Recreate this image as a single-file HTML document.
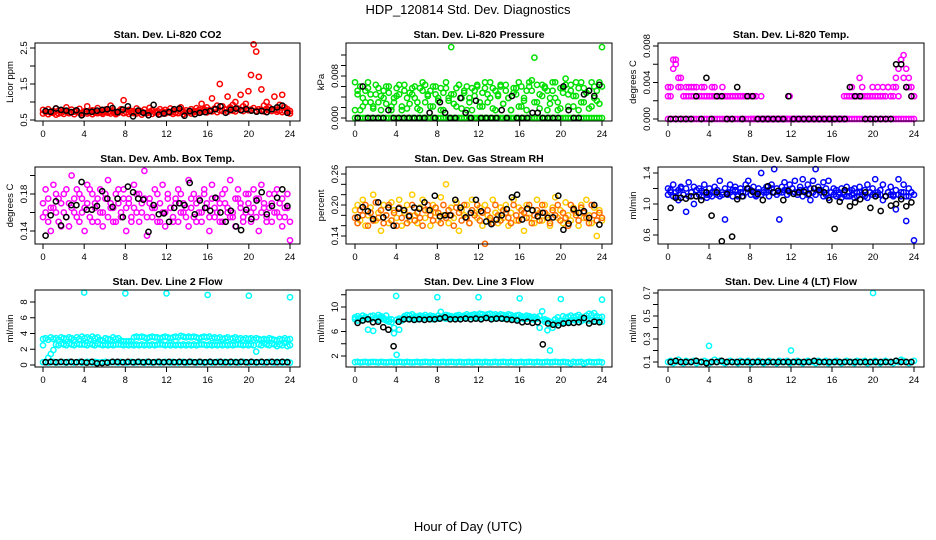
<!DOCTYPE html>
<html><head><meta charset="utf-8"><style>
body{margin:0;background:#fff}
svg{display:block;font-family:"Liberation Sans",sans-serif}
</style></head><body>
<svg id="chart" width="936" height="540" viewBox="0 0 936 540">
<text x="468" y="14" text-anchor="middle" font-size="13">HDP_120814  Std. Dev. Diagnostics</text>
<text x="468" y="531" text-anchor="middle" font-size="13">Hour of Day (UTC)</text>
</svg>
<script>
// ---- data (values; x is hour index spread over 0-24) ----
const hourTicks = [0,4,8,12,16,20,24];
const co2A = ".78 .72 .8 .7 .75 .82 .68 .77 .74 .85 .7 .79 .73 .76 .81 .69 .74 .88 .72 .77 .7 .83 .75 .71 .79 .73 .9 .76 .7 .74 .8 1.05 .72 .78 .75 .69 .82 .76 .73 .79 .7 .84 .77 .72 .75 .8 .71 .78 .74 .82 .76 .7 .79 .85 .73 .77 .72 .8 .75 .83 .78 .95 .8 .85 .76 1.1 .82 .9 1.5 .88 .8 1.15 .85 .92 1.0 .82 1.2 .88 .95 1.3 1.75 2.6 2.4 1.7 1.35 .9 1.0 .85 .8 1.15 .78 .92 1.2 .85 .8 .75";
const co2B = ".68 .74 .66 .72 .7 .65 .76 .7 .67 .73 .69 .71 .66 .75 .7 .64 .72 .68 .7 .66 .73 .69 .71 .67 .74 .7 .68 .72 .66 .7 .73 .69 .71 .67 .7 .74 .68 .72 .65 .7 .69 .73 .67 .71 .7 .66 .74 .68 .72 .7 .67 .71 .69 .73 .66 .7 .72 .68 .71 .74 .7 .73 .76 .71 .78 .74 .8 .72 .77 .75 .79 .73 .81 .76 .74 .8 .78 .75 .82 .77 .79 .83 .76 .8 .78 .74 .81 .77 .75 .79 .73 .76 .72 .75 .7 .68";
const co2K = ".75 .73 .82 .78 .76 .72 .77 .63 .74 .73 .76 .78 .8 .83 .72 .79 .88 .6 .76 .7 .63 .92 .65 .68 .72 .8 .82 .62 .75 .66 .7 .72 .75 .8 .88 .7 .78 .82 .77 .8 .76 .73 .75 .72 .8 .85 .9 .7";
const presA = "0 0 0 0 0 0 0 0 0 0 0 0 0 0 0 0 0 0 0 0 0 0 0 0 0 0 0 0 0 0 0 0 0 0 0 0 0 0 0 0 0 0 0 0 0 0 0 0 0 0 0 0 0 0 0 0 0 0 0 0 0 0 0 0 0 0 0 0 0 0 0 0 0 0 0 0 0 0 0 0 0 0 0 0 0 0 0 0 0 0 0 0 0 0 0 0";
const presB = ".0068 .0045 .0015 .0038 .0052 .0068 .003 .0022 .0045 .0057 .0015 .0038 .006 .0048 .0022 .003 .0042 .0063 .0015 .0052 .0038 .0027 .0045 .006 .0018 .0057 .0068 .003 .0045 .0052 .0022 .006 .0038 .0015 .0048 .0057 .0033 .0135 .0045 .0022 .0063 .0038 .0052 .0015 .003 .0057 .0042 .006 .0022 .0048 .0068 .003 .0038 .0057 .0015 .0045 .0063 .0027 .0052 .0038 .0015 .0057 .0045 .0068 .0022 .0033 .0052 .006 .0072 .0115 .003 .0045 .0063 .0057 .0015 .0038 .0052 .0068 .003 .0018 .0057 .0075 .0045 .0063 .0022 .0042 .0057 .0068 .003 .0048 .0052 .0022 .006 .0033 .0068 .0135";
const presC = ".0015 .0052 .006 .0022 .003 .0057 .0045 .0018 .0063 .003 .0042 .0052 .0027 .006 .0015 .0038 .0057 .0045 .0022 .0063 .0018 .0048 .0057 .0038 .003 .0015 .0052 .0063 .0042 .0022 .006 .0045 .0033 .0057 .0015 .0068 .0038 .0045 .0027 .0057 .0063 .0018 .0048 .006 .0038 .0015 .0052 .0063 .003 .0022 .0057 .0045 .0068 .0018 .0052 .0042 .006 .0027 .0063 .0038 .0015 .0048 .0057 .0022 .006 .0038 .0015 .0068 .0052 .003 .0063 .0018 .0042 .006 .0052 .0027 .0068 .0038 .0015 .0057 .0048 .0063 .0022 .0052 .0042 .0068 .0015 .003 .0057 .0048 .0018 .0068 .0038 .0052 .0027 .006";
const presK = "0 .006 0 0 0 0 .0015 0 0 0 0 0 0 0 .001 0 .003 .001 0 0 .0038 .001 0 .0033 0 0 0 0 .0015 0 .0042 0 0 0 .001 .001 0 0 0 0 .006 .0015 0 0 .0045 .0052 .0042 .0063";
const tempA = presA;
const tempB = ".0035 .0025 .0065 .006 .0045 .0035 .0025 .0035 .0025 .0035 .0025 .0035 .0025 .0025 .0035 .0025 .0025 .0035 .0025 .0025 .0025 .0035 .0025 .0025 .0025 .0025 .0025 .0025 .0025 .0025 .0025 .0025 .0025 .0025 .0025 0 .0025 0 0 0 0 0 0 0 0 0 0 .0025 0 0 0 0 0 0 0 0 0 0 0 0 0 0 0 0 0 0 0 0 0 0 .0025 .0025 .0025 .0025 .0045 .0035 .0025 .0025 .0025 .0025 .0025 .0025 .0025 .0035 .0025 .0035 .0025 .0025 .0035 .0025 .0065 .007 .0055 .0045 .0035 .0025";
const tempC = ".0025 .0035 .0055 .0065 .0035 .0045 .0025 .0025 .0035 .0025 .0035 .0025 .0025 .0035 .0025 .0025 .0025 .0025 .0035 .0025 .0025 .0025 .0025 .0025 .0025 .0025 .0025 .0025 .0025 .0025 .0025 .0025 0 0 .0025 0 0 0 0 0 0 0 0 0 0 0 0 0 0 0 0 0 0 0 0 0 0 0 0 0 0 0 0 0 0 0 0 0 .0025 .0025 .0025 .0035 .0025 .0025 .0025 .0025 .0025 .0025 .0025 .0035 .0025 .0035 .0025 .0025 .0025 .0035 .0025 .0035 .0045 .0055 .0065 .0045 .0035 .0035 .0025 .0025";
const tempK = "0 0 0 0 0 .0025 0 .0045 0 .0025 .0025 0 0 .0035 0 .0025 .0025 0 0 0 0 0 0 .0025 0 0 0 0 0 0 0 0 0 0 0 .0035 .0025 .0025 0 0 0 0 0 0 .006 .006 .0035 .0025";
const boxA = ".17 .185 .15 .165 .19 .16 .175 .145 .18 .155 .17 .2 .16 .185 .15 .175 .165 .19 .155 .18 .17 .15 .185 .16 .175 .195 .165 .15 .18 .17 .155 .185 .165 .175 .15 .19 .16 .18 .17 .205 .155 .175 .165 .185 .15 .17 .19 .16 .18 .165 .15 .175 .185 .16 .17 .155 .195 .165 .18 .15 .175 .16 .185 .17 .155 .19 .165 .175 .15 .18 .17 .16 .195 .155 .175 .185 .165 .15 .18 .17 .16 .185 .155 .175 .19 .165 .15 .18 .17 .16 .185 .155 .175 .165 .18 .15";
const boxB = ".155 .16 .175 .14 .165 .18 .15 .17 .16 .185 .145 .165 .175 .155 .18 .16 .14 .17 .185 .15 .165 .175 .16 .145 .18 .155 .17 .165 .15 .185 .16 .175 .14 .17 .155 .165 .18 .15 .16 .175 .135 .17 .155 .165 .18 .15 .16 .145 .175 .165 .155 .17 .15 .18 .16 .165 .145 .175 .155 .17 .16 .15 .18 .165 .14 .175 .155 .16 .17 .15 .185 .165 .155 .16 .145 .175 .17 .155 .16 .18 .15 .165 .175 .14 .16 .17 .155 .165 .15 .18 .16 .17 .145 .155 .165 .13";
const boxK = ".135 .157 .172 .146 .155 .168 .168 .193 .163 .163 .167 .183 .175 .166 .175 .155 .188 .182 .175 .174 .139 .168 .158 .159 .15 .165 .17 .168 .192 .158 .173 .165 .162 .176 .16 .15 .162 .145 .141 .163 .153 .173 .182 .158 .167 .176 .185 .167";
const rhA = ".19 .2 .17 .21 .16 .18 .195 .22 .17 .185 .15 .2 .18 .165 .205 .19 .175 .21 .16 .185 .2 .17 .22 .18 .165 .195 .21 .175 .19 .16 .2 .185 .17 .215 .18 .24 .165 .195 .175 .205 .15 .19 .18 .2 .165 .21 .185 .175 .195 .16 .2 .18 .17 .21 .185 .165 .195 .175 .2 .16 .185 .21 .17 .195 .18 .15 .2 .175 .19 .165 .21 .185 .17 .2 .18 .16 .195 .215 .175 .19 .165 .205 .18 .17 .195 .185 .16 .2 .175 .21 .18 .165 .195 .14 .19 .17";
const rhB = ".175 .165 .19 .18 .2 .16 .185 .17 .205 .175 .19 .165 .18 .2 .17 .185 .16 .195 .175 .19 .165 .18 .2 .17 .185 .175 .16 .19 .2 .18 .17 .195 .185 .165 .2 .175 .19 .18 .16 .195 .185 .17 .2 .175 .165 .19 .18 .2 .17 .185 .125 .19 .175 .165 .2 .18 .17 .19 .185 .175 .165 .2 .18 .17 .19 .185 .175 .2 .165 .18 .19 .17 .2 .185 .175 .165 .19 .18 .2 .17 .185 .175 .16 .2 .19 .18 .17 .195 .185 .175 .165 .2 .18 .17 .185 .175";
const rhK = ".176 .196 .188 .173 .205 .176 .195 .16 .193 .19 .178 .195 .193 .205 .19 .218 .178 .18 .18 .21 .195 .176 .185 .21 .188 .168 .163 .172 .18 .192 .215 .22 .172 .193 .19 .178 .185 .175 .176 .218 .152 .164 .192 .185 .188 .175 .2 .162";
const flowA = "1.2 1.15 1.25 1.1 1.18 1.22 1.12 1.2 1.28 1.15 1.22 1.1 1.2 1.17 1.25 1.12 1.2 1.15 1.22 1.18 1.3 1.12 1.2 1.15 1.25 1.18 1.22 1.1 1.2 1.15 1.25 1.3 1.18 1.22 1.12 1.2 1.4 1.15 1.22 1.18 1.25 1.45 1.2 1.15 1.22 1.28 1.18 1.25 1.2 1.3 1.15 1.22 1.32 1.18 1.25 1.2 1.3 1.45 1.22 1.18 1.28 1.2 1.3 1.15 1.2 1.18 1.12 1.2 1.15 1.22 1.1 1.18 1.2 1.15 1.22 1.12 1.18 1.25 1.15 1.2 1.32 1.12 1.18 1.25 1.1 1.15 1.22 1.12 1.18 1.32 1.15 1.25 1.1 1.2 1.15 1.12";
const flowB = "1.12 1.18 1.1 1.15 1.05 1.2 1.12 0.9 1.1 1.15 1.0 1.18 1.12 1.1 1.15 1.08 1.12 1.1 1.15 1.12 1.1 1.15 0.8 1.12 1.15 1.1 1.18 1.12 1.15 1.1 1.15 1.2 1.12 1.15 1.1 1.15 1.12 1.18 1.15 1.1 1.2 1.15 1.12 0.8 1.15 1.18 1.12 1.15 1.2 1.15 1.12 1.18 1.1 1.15 1.12 1.05 1.15 1.12 1.18 1.15 1.1 1.12 1.08 1.15 1.12 1.1 1.15 1.08 1.12 1.1 1.15 1.12 1.08 1.1 1.15 1.12 1.1 1.08 1.15 1.12 1.1 1.15 1.12 1.05 1.1 1.15 1.12 1.1 0.93 1.12 1.1 1.15 0.78 1.1 1.15 0.53";
const flowK = "0.95 1.08 1.08 1.07 1.1 1.1 1.05 1.15 0.85 1.15 0.52 1.13 0.58 1.06 1.1 1.2 1.16 1.13 1.05 1.23 1.15 1.17 1.05 1.17 1.13 1.15 1.16 1.13 1.2 1.18 1.15 1.05 0.68 1.03 1.18 0.97 1.02 1.06 1.15 0.95 1.1 0.91 1.1 0.98 1.0 1.06 0.97 1.02";
const l2A = "3.3 3.4 3.2 3.5 3.3 3.4 3.2 3.5 3.4 3.3 3.5 3.4 3.2 3.5 3.3 3.6 3.4 3.5 3.3 3.6 3.4 3.5 3.2 3.1 3.4 3.3 3.2 3.5 3.3 3.4 3.1 3.0 3.0 3.0 3.0 3.5 3.6 3.5 3.6 3.5 3.4 3.5 3.6 3.5 3.5 3.4 3.5 3.6 3.5 3.4 3.5 3.6 3.5 3.7 3.6 3.5 3.6 3.5 3.6 3.5 3.4 3.5 3.6 3.5 3.6 3.4 3.5 3.4 3.5 3.3 3.4 3.5 3.3 3.4 3.5 3.3 3.4 3.2 3.4 3.3 3.4 3.2 3.4 3.3 3.2 3.3 3.2 3.4 3.3 3.2 3.1 3.3 3.2 3.4 3.2 3.3";
const l2B = "2.5 0.4 0.9 1.4 1.9 2.6 2.5 2.7 2.6 2.5 2.7 2.6 2.5 2.7 2.6 2.6 2.6 2.5 2.7 2.6 2.5 2.7 2.6 2.5 2.6 2.5 2.6 2.5 2.6 2.6 2.6 2.5 2.6 2.5 2.6 2.5 2.6 2.5 2.6 2.5 2.6 2.5 2.6 2.5 2.6 2.6 2.6 2.5 2.6 2.5 2.6 2.5 2.6 2.5 2.6 2.5 2.6 2.5 2.6 2.5 2.6 2.6 2.6 2.5 2.6 2.5 2.6 2.5 2.6 2.5 2.6 2.5 2.6 2.5 2.6 2.6 2.6 2.5 2.6 2.5 2.6 2.5 1.7 2.6 2.5 2.8 2.6 2.5 2.7 2.6 2.4 2.6 2.5 2.8 2.4 2.5";
const l2C = ".35 .4 .3 .35 .4 .3 .35 .4 .35 .3 .4 .35 .3 .35 .4 .3 .35 .4 .35 .3 .4 .35 .3 .35 .4 .3 .35 .4 .35 .3 .4 .35 .3 .35 .4 .3 .35 .4 .35 .3 .4 .35 .3 .35 .4 .3 .35 .4 .35 .3 .4 .35 .3 .35 .4 .3 .35 .4 .35 .3 .4 .35 .3 .35 .4 .3 .35 .4 .35 .3 .4 .35 .3 .35 .4 .3 .35 .4 .35 .3 .4 .35 .3 .35 .4 .3 .35 .4 .35 .3 .4 .35 .3 .35 .4 .3";
const l2K = ".35 .4 .35 .4 .35 .4 .35 .4 .3 .4 .2 .25 .3 .4 .4 .35 .4 .35 .4 .35 .4 .35 .4 .35 .4 .35 .4 .35 .4 .35 .4 .35 .4 .35 .4 .35 .4 .35 .4 .35 .4 .35 .4 .35 .4 .35 .4 .35";
const l2SpikeX = [4,8,12,16,20,24];
const l2SpikeY = [9.2,9.1,9.1,8.9,8.8,8.6];
const l3A = "8.3 8.5 8.2 8.6 8.4 8.0 8.5 8.6 8.3 8.7 8.5 8.2 8.6 8.0 7.5 5.7 2.2 6.3 7.8 8.5 8.7 8.6 8.8 8.5 8.4 8.6 8.5 8.7 8.4 8.6 8.5 8.3 8.6 9.2 8.5 8.7 8.6 8.5 8.4 8.6 8.7 8.5 8.6 8.8 8.6 8.7 8.8 8.7 8.9 8.8 8.7 8.8 8.9 8.7 8.8 8.6 8.8 8.7 8.6 8.8 8.7 8.5 8.6 8.7 8.5 8.4 8.6 8.5 8.3 8.4 8.2 8.5 9.3 7.6 6.2 2.9 6.6 8.0 8.3 7.8 8.5 8.2 8.4 8.6 8.3 8.5 8.7 8.4 8.2 8.6 8.9 8.7 9.0 8.5 8.3 8.4";
const l3B = "8.0 7.8 8.1 7.9 8.2 6.3 8.0 6.1 8.1 7.9 8.2 8.0 7.8 7.6 8.0 6.6 7.9 8.1 8.0 8.2 8.1 8.0 8.2 8.1 8.0 8.2 8.1 8.3 8.1 8.2 8.0 8.2 8.1 8.3 8.2 8.1 8.3 8.2 8.1 8.3 8.2 8.4 8.3 8.2 8.4 8.3 8.2 8.4 8.3 8.2 8.4 8.3 8.2 8.3 8.1 8.3 8.2 8.1 8.3 8.2 8.1 8.2 8.0 8.1 8.2 8.0 8.1 8.2 8.0 7.9 8.1 6.6 7.9 8.0 7.8 7.6 7.4 7.2 7.6 7.3 7.5 7.7 7.6 7.8 7.9 7.8 8.0 7.7 7.9 8.0 7.8 7.9 7.7 7.9 7.8 7.6";
const l3C = "1.0 1.05 .95 1.0 1.05 .95 1.0 1.05 1.0 .95 1.05 1.0 .95 1.0 1.05 .95 1.0 1.05 1.0 .95 1.05 1.0 .95 1.0 1.05 .95 1.0 1.05 1.0 .95 1.05 1.0 .95 1.0 1.05 .95 1.0 1.05 1.0 .95 1.05 1.0 .95 1.0 1.05 .95 1.0 1.05 1.0 .95 1.05 1.0 .95 1.0 1.05 .95 1.0 1.05 1.0 .95 1.05 1.0 .95 1.0 1.05 .95 1.0 1.05 1.0 .95 1.05 1.0 .95 1.0 1.05 .95 1.0 1.05 1.0 .95 1.05 1.0 .95 .8 1.05 .95 1.0 1.05 .8 .95 1.05 1.0 .95 1.0 1.05 .95";
const l3K = "7.4 7.8 8.0 7.5 7.6 6.7 6.3 3.6 7.6 8.0 8.0 7.9 8.0 7.9 8.0 8.0 8.1 8.3 8.0 8.0 8.0 8.1 8.0 8.1 8.0 8.2 8.0 8.1 8.1 8.0 7.9 7.8 7.5 7.6 7.4 7.5 3.9 7.3 7.1 7.0 7.3 7.4 7.4 7.5 8.2 7.3 7.6 7.5";
const l3SpikeX = [4,8,12,16,20,24];
const l3SpikeY = [11.8,11.6,11.6,11.4,11.3,11.2];
const l4A = ".1 .11 .09 .1 .12 .1 .09 .11 .1 .1 .11 .09 .1 .1 .11 .1 .09 .1 .12 .1 .11 .1 .09 .1 .11 .1 .1 .09 .11 .1 .1 .11 .09 .1 .1 .11 .1 .09 .1 .11 .1 .1 .09 .11 .1 .1 .11 .09 .1 .1 .11 .1 .09 .1 .11 .1 .1 .09 .11 .1 .1 .11 .09 .1 .1 .11 .1 .09 .1 .11 .1 .1 .09 .11 .1 .1 .11 .09 .1 .1 .11 .1 .09 .1 .11 .1 .1 .09 .11 .1 .12 .11 .1 .09 .1 .11";
const l4K = ".1 .11 .1 .1 .1 .11 .1 .09 .1 .1 .11 .1 .1 .1 .1 .1 .1 .1 .1 .1 .1 .1 .1 .1 .1 .1 .1 .1 .11 .1 .1 .1 .1 .1 .1 .1 .1 .1 .1 .1 .1 .1 .1 .1 .11 .1 .1 .1";
const l4SpikeX = [4,12,20];
const l4SpikeY = [0.24,0.2,0.7];

const P = s => s.trim().split(/\s+/).map(Number);
const svg = document.getElementById('chart');
const NS = 'http://www.w3.org/2000/svg';
function mk(tag, attrs, parent){const e=document.createElementNS(NS,tag);for(const k in attrs)e.setAttribute(k,attrs[k]);(parent||svg).appendChild(e);return e;}

const cols = [{l:35,r:300,x0:43,x24:290},{l:346,r:612,x0:355,x24:602},{l:658,r:924,x0:668,x24:914}];
const rows = [{t:43,b:121},{t:167,b:244},{t:290,b:367}];

const panels = [
 {c:0,r:0,title:"Stan. Dev. Li-820 CO2",ylab:"Licor ppm",v0:0.5,p0:120,v1:2.5,p1:48,ticks:[0.5,1,1.5,2,2.5],labels:["0.5","1.5","2.5"],lv:[0.5,1.5,2.5],
  series:[[co2A,"#ff0000"],[co2B,"#ff0000"]],black:co2K},
 {c:1,r:0,title:"Stan. Dev. Li-820 Pressure",ylab:"kPa",v0:0,p0:118,v1:0.008,p1:76,ticks:[0,.002,.004,.006,.008,.010,.012],labels:["0.000","0.008"],lv:[0,.008],
  series:[[presA,"#00e000"],[presB,"#00e000"],[presC,"#00e000"]],black:presK},
 {c:2,r:0,title:"Stan. Dev. Li-820 Temp.",ylab:"degrees C",v0:0,p0:119,v1:0.008,p1:46,ticks:[0,.002,.004,.006,.008],labels:["0.000","0.004","0.008"],lv:[0,.004,.008],
  series:[[tempA,"#ff00ff"],[tempB,"#ff00ff"],[tempC,"#ff00ff"]],black:tempK},
 {c:0,r:1,title:"Stan. Dev. Amb. Box Temp.",ylab:"degrees C",v0:0.14,p0:231,v1:0.18,p1:194,ticks:[.14,.16,.18,.20],labels:["0.14","0.18"],lv:[.14,.18],
  series:[[boxA,"#ff00ff"],[boxB,"#ff00ff"]],black:boxK},
 {c:1,r:1,title:"Stan. Dev. Gas Stream RH",ylab:"percent",v0:0.14,p0:236,v1:0.26,p1:174,ticks:[.14,.16,.18,.20,.22,.24,.26],labels:["0.14","0.20","0.26"],lv:[.14,.20,.26],
  series:[[rhA,"#ffcc00"],[rhB,"#ff6a00"]],black:rhK},
 {c:2,r:1,title:"Stan. Dev. Sample Flow",ylab:"ml/min",v0:0.6,p0:235,v1:1.4,p1:173,ticks:[.6,.8,1,1.2,1.4],labels:["0.6","1.0","1.4"],lv:[.6,1,1.4],
  series:[[flowA,"#0000ff"],[flowB,"#0000ff"]],black:flowK},
 {c:0,r:2,title:"Stan. Dev. Line 2 Flow",ylab:"ml/min",v0:0,p0:365,v1:8,p1:302,ticks:[0,2,4,6,8],labels:["0","2","4","6","8"],lv:[0,2,4,6,8],
  series:[[l2A,"#00ffff"],[l2B,"#00ffff"],[l2C,"#00ffff"]],spx:l2SpikeX,spy:l2SpikeY,black:l2K},
 {c:1,r:2,title:"Stan. Dev. Line 3 Flow",ylab:"ml/min",v0:2,p0:356,v1:10,p1:307,ticks:[2,4,6,8,10,12],labels:["2","6","10"],lv:[2,6,10],
  series:[[l3A,"#00ffff"],[l3B,"#00ffff"],[l3C,"#00ffff"]],spx:l3SpikeX,spy:l3SpikeY,black:l3K},
 {c:2,r:2,title:"Stan. Dev. Line 4 (LT) Flow",ylab:"ml/min",v0:0.1,p0:362,v1:0.7,p1:293,ticks:[.1,.2,.3,.4,.5,.6,.7],labels:["0.1","0.3","0.5","0.7"],lv:[.1,.3,.5,.7],
  series:[[l4A,"#00ffff"]],spx:l4SpikeX,spy:l4SpikeY,black:l4K}
];

panels.forEach((p,pi)=>{
  const C=cols[p.c], R=rows[p.r];
  const g=mk('g',{});
  
  
  const xs=h=>C.x0+h*(C.x24-C.x0)/24;
  const ys=v=>p.p0+(v-p.v0)*(p.p1-p.p0)/(p.v1-p.v0);
  const t=mk('text',{x:(C.l+C.r)/2,y:R.t-5,'text-anchor':'middle','font-size':'10.5','font-weight':'bold'},g);
  t.textContent=p.title;
  
  
  const draw=(vals,col,n)=>{
    vals.forEach((v,i)=>{
      const x = n===48 ? 0.25+i*0.5 : i*24/(vals.length-1);
      const c=mk('circle',{cx:xs(x).toFixed(1),cy:ys(v).toFixed(1),r:2.6,fill:'none',stroke:col,'stroke-width':1.5},g);
      
      
    });
  };
  p.series.forEach(s=>draw(P(s[0]),s[1],96));
  if(p.spx){p.spx.forEach((h,i)=>{
    const c=mk('circle',{cx:xs(h),cy:ys(p.spy[i]),r:2.6,fill:'none',stroke:p.series[0][1],'stroke-width':1.5},g);
    
    
  });}
  draw(P(p.black),"#000",48);
  const box=mk('rect',{x:C.l,y:R.t,width:C.r-C.l,height:R.b-R.t,fill:'none',stroke:'#000','stroke-width':1},g);
  
  
  hourTicks.forEach(h=>{
    mk('line',{x1:xs(h),x2:xs(h),y1:R.b,y2:R.b+5,stroke:'#000'},g);
    const tl=mk('text',{x:xs(h),y:R.b+16,'text-anchor':'middle','font-size':'9.5'},g);
    tl.textContent=h;
    
    
  });
  p.ticks.forEach(v=>mk('line',{x1:C.l-5,x2:C.l,y1:ys(v),y2:ys(v),stroke:'#000'},g));
  p.lv.forEach((v,i)=>{
    const y=ys(v), x=C.l-8;
    const tl=mk('text',{x:x,y:y,'text-anchor':'middle','font-size':'9.5',transform:`rotate(-90 ${x} ${y})`},g);
    tl.textContent=p.labels[i];
    
    
  });
  const yx=C.l-22, yy=(R.t+R.b)/2;
  const yl=mk('text',{x:yx,y:yy,'text-anchor':'middle','font-size':'9.5',transform:`rotate(-90 ${yx} ${yy})`},g);
  yl.textContent=p.ylab;
  
  
});
</script>
</body></html>
